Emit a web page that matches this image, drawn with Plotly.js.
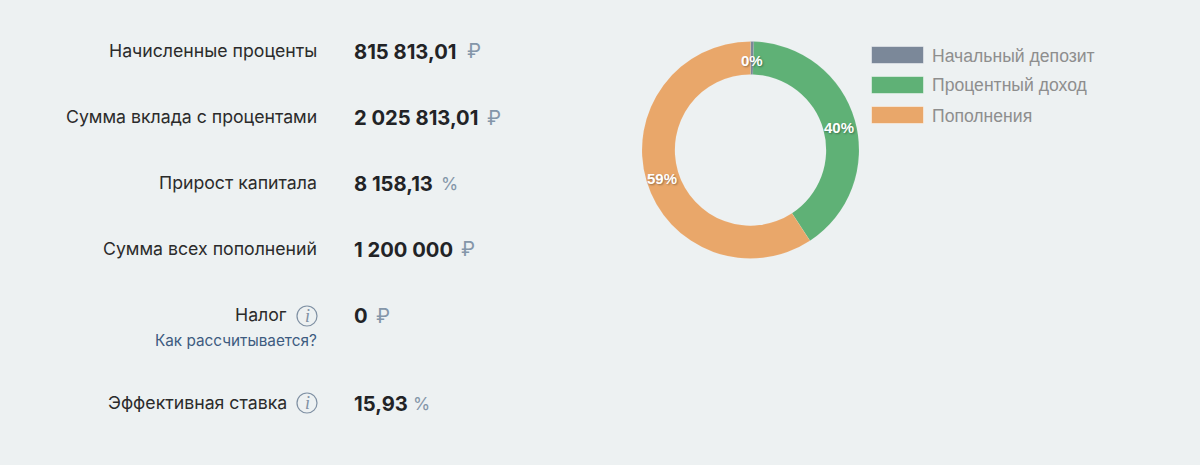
<!DOCTYPE html>
<html><head><meta charset="utf-8">
<script src="https://cdn.plot.ly/plotly-3.0.1.min.js"></script>
<style>html,body{margin:0;padding:0;background:#edf1f2}#c{width:1200px;height:465px}</style>
</head><body><div id="c"></div>
<script>
const sliceLabels = ['Начальный депозит','Процентный доход','Пополнения'];
const sliceValues = [10000, 815813.01, 1200000];
const sliceText = ['0%','40%','59%'];
const sliceColors = ['#7b8899','#5fb176','#e9a76a'];
const rowLabels = ['Начисленные проценты','Сумма вклада с процентами','Прирост капитала','Сумма всех пополнений','Налог','Эффективная ставка'];
const rowValues = ['815 813,01','2 025 813,01','8 158,13','1 200 000','0','15,93'];
const rowUnits = ['₽','₽','%','₽','₽','%'];
const rowY = [51,117,183,249,315,403];
const unitX = [474,494,449,468,383,421];
const unitSize = [20,20,17.5,20,20,17.5];
const labelRight = [317,317,317,317,287,287];

const W=1200,H=465;
const X=p=>p/W, Y=p=>1-p/H;
const SANS='Inter, "Noto Sans", sans-serif', LEG='"Liberation Sans", Arial, sans-serif';
const ann=[], shapes=[];
function t(text,x,y,anchor,font,color,size,extra){
  ann.push(Object.assign({text,x:X(x),y:Y(y),xref:'paper',yref:'paper',xanchor:anchor,yanchor:'middle',showarrow:false,
    font:{family:font,size,color},borderpad:0,borderwidth:0},extra||{}));
}
rowLabels.forEach((l,i)=>{
  t(l,labelRight[i],rowY[i]-0.5,'right',SANS,'#2b2b2b',17.7);
  t('<b>'+rowValues[i]+'</b>',354,rowY[i]+0.5,'left',SANS,'#222326',20.2);
  t(rowUnits[i],unitX[i],rowY[i]+0.5,'center',SANS,'#8496a9',unitSize[i]);
});
t('Как рассчитывается?',317,340,'right',SANS,'#3d5b80',15.3);
[316,403].forEach(cy=>{
  shapes.push({type:'circle',xref:'paper',yref:'paper',x0:X(297),x1:X(317),y0:Y(cy+10),y1:Y(cy-10),line:{color:'#7f90a3',width:1.2},fillcolor:'rgba(0,0,0,0)'});
  t('<i>i</i>',307,cy,'center','"Liberation Serif", serif','#7f90a3',18);
});
// legend
sliceLabels.forEach((l,i)=>{
  const cy=55+30*i;
  shapes.push({type:'rect',xref:'paper',yref:'paper',x0:X(871.5),x1:X(923.5),y0:Y(cy+8.5),y1:Y(cy-8.5),fillcolor:sliceColors[i],line:{color:'rgba(255,255,255,0.45)',width:1}});
  t(l,932,cy+0.5,'left',LEG,'#8e8e8e',17.6);
});
// slice labels placed at the ring midline from the data
const cx=750.5,cyP=152,rMid=92,total=sliceValues.reduce((a,b)=>a+b,0);
let acc=0;
sliceValues.forEach((v,i)=>{
  const a=(acc+v/2)/total*2*Math.PI; acc+=v;
  t('<b>'+sliceText[i]+'</b>',cx+rMid*Math.sin(a),cyP-rMid*Math.cos(a),'center',LEG,'#ffffff',15,{});
  ann[ann.length-1].font.shadow='1px 1px 2px rgba(0,0,0,0.35)';
});
Plotly.newPlot('c',[{
  type:'pie',labels:sliceLabels,values:sliceValues,hole:0.697,sort:false,direction:'clockwise',rotation:0,
  marker:{colors:sliceColors,line:{color:'rgba(255,255,255,0.15)',width:0.5}},
  textinfo:'none',showlegend:false,
  domain:{x:[X(642),X(859)],y:[Y(258.5),Y(41.5)]}
}],{
  width:W,height:H,margin:{l:0,r:0,t:0,b:0},paper_bgcolor:'#edf1f2',plot_bgcolor:'#edf1f2',
  showlegend:false,annotations:ann,shapes:shapes
},{displayModeBar:false,staticPlot:true});
</script></body></html>
